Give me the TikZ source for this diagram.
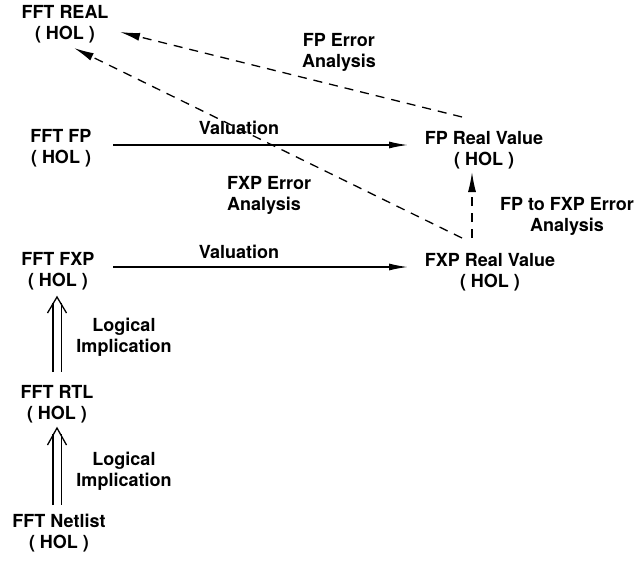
\documentclass[tikz,border=0pt]{standalone}
\usepackage{fontspec}
\setmainfont{TeX Gyre Heros}
\usetikzlibrary{arrows.meta,calc}
\begin{document}
\begin{tikzpicture}[x=1pt,y=-1pt,
  lbl/.style={font=\bfseries\fontsize{18}{21}\selectfont, align=center, inner sep=0pt},
  flow/.style={line width=1.4pt, -{Latex[length=19pt,width=7pt]}},
  err/.style={line width=1.3pt, dash pattern=on 9pt off 7pt, -{Latex[length=20pt,width=8pt]}},
  impl/.style={line width=1.3pt, double distance=7pt},
  chevron/.style={line width=1.3pt, line join=miter}]
\useasboundingbox (0,0) rectangle (640,560);

% model levels
\node[lbl] (real)    at (65,24)   {FFT REAL\\( HOL )};
\node[lbl] (fp)      at (61,148)  {FFT FP\\( HOL )};
\node[lbl] (fxp)     at (58,271)  {FFT FXP\\( HOL )};
\node[lbl] (rtl)     at (57,404)  {FFT RTL\\( HOL )};
\node[lbl] (netlist) at (59,533)  {FFT Netlist\\( HOL )};
\node[lbl] (fpreal)  at (484,150) {FP Real Value\\( HOL )};
\node[lbl] (fxpreal) at (490,272) {FXP Real Value\\( HOL )};

% valuation arrows
\draw[flow] ($(fp)+(52,-3)$) -- ($(fpreal)+(-76,-5)$);
\node[lbl] (val1) at (239,128) {Valuation};
\draw[flow] ($(fxp)+(55,-4)$) -- ($(fxpreal)+(-82,-5)$);
\node[lbl] (val2) at (239,252) {Valuation};

% error analysis arrows
\draw[err] ($(fpreal)+(-22,-33)$) -- ($(real)+(55,8)$);
\node[lbl] (fperr) at (339,52) {FP Error\\Analysis};
\draw[err] ($(fxpreal)+(-28,-34)$) -- ($(real)+(9,24)$);
\node[lbl, align=left, anchor=west] (fxperr) at (227,195) {FXP Error\\Analysis};
\draw[err] ($(fxpreal)+(-18,-34)$) -- ($(fpreal)+(-12,22)$);
\node[lbl] (fpfxp) at (567,216) {FP to FXP Error\\Analysis};

% logical implications: double shaft with an open chevron head
\draw[impl] ($(rtl)+(0,-32)$) -- ($(fxp)+(-1,32)$);
\draw[chevron] ($(fxp)+(-1,26)$) ++(-9.5,16) -- ++(9.5,-16) -- ++(9.5,16);
\node[lbl] (imp1) at (124,337) {Logical\\Implication};
\draw[impl] ($(netlist)+(-2,-28)$) -- ($(rtl)+(0,30)$);
\draw[chevron] ($(rtl)+(0,24)$) ++(-9.5,17) -- ++(9.5,-17) -- ++(9.5,17);
\node[lbl] (imp2) at (124,471) {Logical\\Implication};
\end{tikzpicture}
\end{document}
